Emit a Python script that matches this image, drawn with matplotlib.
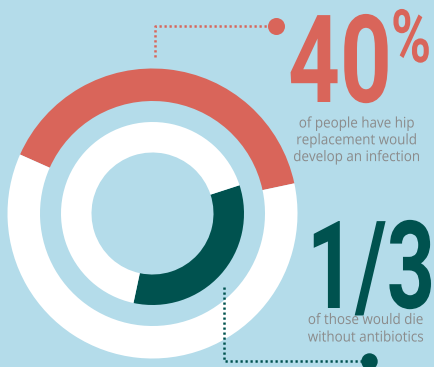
import matplotlib
matplotlib.use("Agg")
from matplotlib import pyplot as plt
from matplotlib import patheffects
from matplotlib.transforms import Affine2D

# chart values
outer_values = [40, 60]          # % of hip replacement patients developing infection
inner_values = [1, 2]            # 1/3 of those would die without antibiotics
outer_colors = ['#d9655a', '#ffffff']
inner_colors = ['#00524f', '#ffffff']
big_labels = ['40', '%', '1/3']
top_lines = ['of people have hip', 'replacement would', 'develop an infection']
bottom_lines = ['of those would die', 'without antibiotics']

BG = '#b4dcea'
RED = outer_colors[0]
GREEN = inner_colors[0]
GREY = '#8b8b8b'

W, H = 435, 367


class Condense(patheffects.AbstractPathEffect):
    """squeeze glyphs horizontally around x0 (display px)"""

    def __init__(self, x0, sx):
        super().__init__()
        self.x0 = x0
        self.sx = sx

    def draw_path(self, renderer, gc, tpath, affine, rgbFace=None):
        squeeze = Affine2D().translate(-self.x0, 0).scale(self.sx, 1).translate(self.x0, 0)
        renderer.draw_path(gc, tpath, affine + squeeze, rgbFace)


fig = plt.figure(figsize=(W / 100, H / 100), dpi=100, facecolor=BG)
ax = fig.add_axes([0, 0, 1, 1])
ax.set_facecolor(BG)
ax.set_xlim(0, W)
ax.set_ylim(0, H)

cx, cy = 152.5, H - 213.5

ax.pie(outer_values, colors=outer_colors, startangle=156, counterclock=False,
       radius=145, center=(cx, cy), frame=True,
       wedgeprops=dict(width=32.5, linewidth=0))
ax.pie(inner_values, colors=inner_colors, startangle=18, counterclock=False,
       radius=91.5, center=(cx, cy), frame=True,
       wedgeprops=dict(width=30.5, linewidth=0))

ax.set_xlim(0, W)
ax.set_ylim(0, H)
ax.set_aspect('equal')
ax.axis('off')

# dotted leader lines
dots = dict(linewidth=1.8, linestyle=(0, (0.9, 1.1)), solid_capstyle='butt')
ax.plot([155, 155, 270], [H - 57, H - 26, H - 26], color=RED, **dots)
ax.scatter([276], [H - 26], s=150, color=RED, linewidths=0, zorder=5)
ax.plot([224, 224, 362], [H - 287, H - 361, H - 361], color=GREEN, **dots)
ax.scatter([369], [H - 361], s=140, color=GREEN, linewidths=0, zorder=5)


def squeezed_text(x, y, s, sx, **kw):
    x0 = ax.transData.transform((x, y))[0]
    return ax.text(x, y, s, path_effects=[Condense(x0, sx)], **kw)


big_font = dict(family=['Roboto', 'DejaVu Sans'], fontweight='bold', va='baseline')
squeezed_text(340, H - 102, big_labels[0], 0.74, color=RED, fontsize=88, ha='center', **big_font)
squeezed_text(411, H - 62, big_labels[1], 0.74, color=RED, fontsize=53, ha='center', **big_font)
squeezed_text(371, H - 308, big_labels[2], 0.69, color=GREEN, fontsize=88, ha='center', **big_font)

small_font = dict(family=['Open Sans', 'DejaVu Sans'], fontsize=10.5, color=GREY,
                  ha='center', va='baseline')
for i, line in enumerate(top_lines):
    squeezed_text(357, H - 127.5 - 16.8 * i, line, 0.92, **small_font)
for i, line in enumerate(bottom_lines):
    squeezed_text(366, H - 324 - 17.5 * i, line, 0.92, **small_font)

fig.savefig('out.png', dpi=100, facecolor=BG)
